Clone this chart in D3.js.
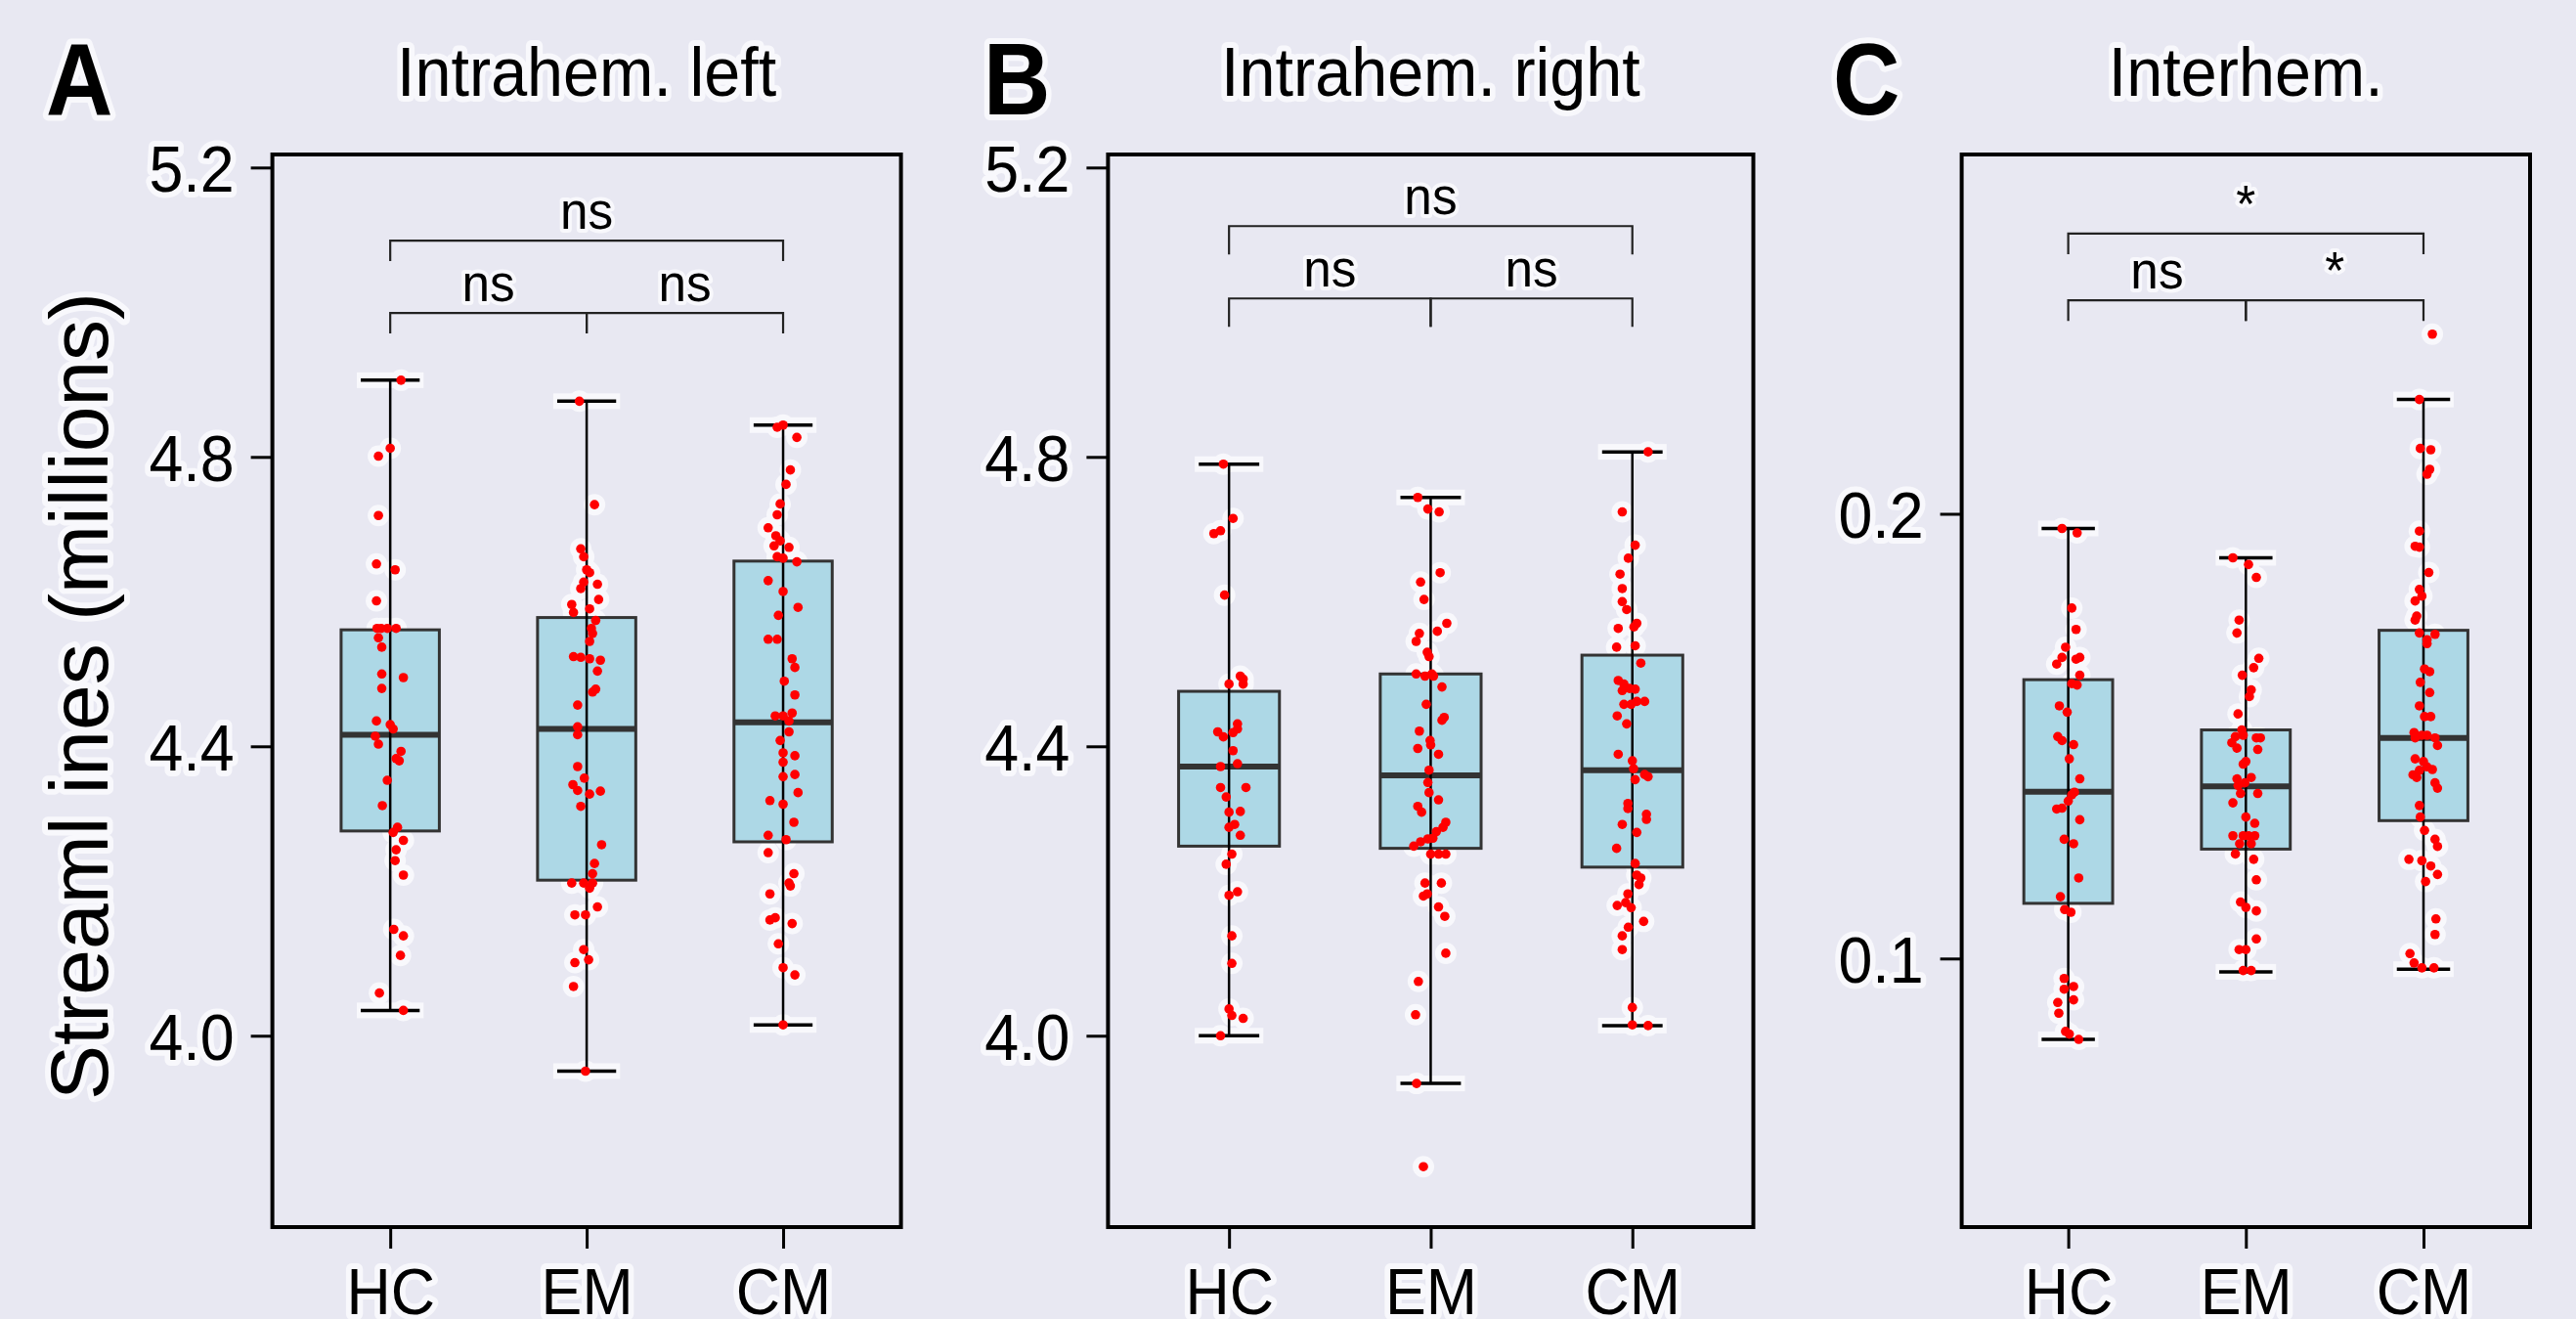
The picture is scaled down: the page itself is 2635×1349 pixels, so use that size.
<!DOCTYPE html>
<html>
<head>
<meta charset="utf-8">
<script src="https://cdn.jsdelivr.net/npm/d3@7"></script>
<style>
  html, body { margin: 0; padding: 0; background: #e8e8f2; }
  svg { display: block; }
  text { font-family: "Liberation Sans", Arial, sans-serif; fill: #000; }
</style>
</head>
<body>
<svg id="chart" width="2635" height="1349"></svg>
<script>
// ---- data ----
const groups = ["HC", "EM", "CM"];
const panelTitles = ["Intrahem. left", "Intrahem. right", "Interhem."];
const panelLetters = ["A", "B", "C"];
const yLabel = "Streaml ines (millions)";
const ticksIntra = [4.0, 4.4, 4.8, 5.2];
const ticksInter = [0.1, 0.2];

// box stats per group: [lower whisker, q1, median, q3, upper whisker]
const leftStats  = [[4.035, 4.283, 4.416, 4.561, 4.906], [3.951, 4.215, 4.424, 4.578, 4.877], [4.015, 4.268, 4.433, 4.656, 4.844]];
const rightStats = [[4.000, 4.262, 4.372, 4.476, 4.790], [3.934, 4.259, 4.360, 4.500, 4.744], [4.014, 4.233, 4.367, 4.526, 4.807]];
const interStats = [[0.0818, 0.1124, 0.1375, 0.1627, 0.1967], [0.0970, 0.1246, 0.1387, 0.1514, 0.1901], [0.0976, 0.1310, 0.1496, 0.1738, 0.2257]];

// individual subjects: [value, jitter (fraction of category step)]
const leftHC = [[4.906,.055],[4.812,0],[4.801,-.06],[4.719,-.06],[4.652,-.07],[4.644,.025],[4.601,-.07],[4.563,-.067],[4.563,-.046],[4.563,-.015],[4.563,.03],[4.55,-.06],[4.537,-.043],[4.50,-.043],[4.495,.067],[4.48,-.043],[4.435,-.07],[4.43,0],[4.424,.015],[4.414,-.076],[4.403,-.06],[4.393,.055],[4.383,.03],[4.38,.046],[4.353,-.015],[4.318,-.04],[4.288,.037],[4.281,.015],[4.27,.067],[4.257,.03],[4.242,.025],[4.222,.067],[4.147,.018],[4.138,.067],[4.111,.052],[4.059,-.055],[4.035,.067]];
const leftEM = [[4.877,-.037],[4.734,.04],[4.673,-.03],[4.662,-.015],[4.644,0],[4.64,.015],[4.627,-.015],[4.624,.055],[4.618,-.03],[4.603,.061],[4.596,-.076],[4.59,.015],[4.585,-.067],[4.574,.046],[4.563,.024],[4.556,.03],[4.545,.015],[4.524,-.067],[4.523,-.03],[4.521,.015],[4.519,.07],[4.504,.055],[4.479,.046],[4.475,.03],[4.457,-.046],[4.427,-.046],[4.416,-.046],[4.372,-.046],[4.356,-.012],[4.347,-.07],[4.339,-.046],[4.334,.015],[4.338,.07],[4.317,-.03],[4.264,.076],[4.238,.04],[4.224,.03],[4.211,-.076],[4.211,-.015],[4.211,.03],[4.204,.015],[4.178,.055],[4.167,-.06],[4.167,-.006],[4.119,-.015],[4.101,-.06],[4.105,.01],[4.068,-.067],[3.951,-.006]];
const leftCM = [[4.844,0],[4.841,-.03],[4.827,.07],[4.782,.037],[4.762,.015],[4.735,-.015],[4.72,-.03],[4.702,-.076],[4.691,-.037],[4.684,-.015],[4.677,-.046],[4.675,.03],[4.662,-.03],[4.66,0],[4.655,.07],[4.629,-.076],[4.614,0],[4.592,.076],[4.581,-.024],[4.548,-.076],[4.548,-.03],[4.521,.046],[4.509,.06],[4.49,.006],[4.471,.06],[4.446,.046],[4.442,-.04],[4.442,0],[4.435,.03],[4.42,.03],[4.408,-.015],[4.391,0],[4.387,.06],[4.378,0],[4.361,.06],[4.358,0],[4.336,.076],[4.325,-.067],[4.32,0],[4.295,.055],[4.277,-.076],[4.271,.015],[4.253,-.076],[4.224,.055],[4.211,.03],[4.207,.037],[4.196,-.067],[4.163,-.04],[4.16,-.067],[4.155,.046],[4.127,-.024],[4.094,0],[4.084,.06],[4.015,0]];

const rightHC = [[4.79,-.028],[4.715,.02],[4.698,-.042],[4.694,-.075],[4.609,-.022],[4.497,.056],[4.493,.07],[4.486,0],[4.486,.07],[4.431,.042],[4.424,.042],[4.419,.02],[4.42,-.056],[4.413,-.028],[4.394,.02],[4.376,.042],[4.372,-.042],[4.343,.084],[4.343,-.042],[4.33,-.014],[4.31,.056],[4.309,0],[4.292,.028],[4.288,0],[4.277,.056],[4.251,.014],[4.237,-.014],[4.199,.042],[4.194,0],[4.138,.014],[4.1,.014],[4.037,0],[4.028,.014],[4.024,.07],[4.0,-.042]];
const rightEM = [[4.744,-.064],[4.728,-.014],[4.724,.042],[4.64,.047],[4.627,-.05],[4.603,-.033],[4.57,.08],[4.559,.033],[4.556,-.056],[4.545,-.072],[4.53,-.017],[4.524,-.008],[4.5,-.072],[4.497,-.028],[4.5,.006],[4.497,.014],[4.482,.056],[4.458,-.022],[4.44,.067],[4.436,.056],[4.421,-.056],[4.397,-.064],[4.402,0],[4.408,-.003],[4.389,.039],[4.367,-.008],[4.35,-.014],[4.336,-.008],[4.326,.039],[4.317,-.064],[4.309,-.045],[4.295,.075],[4.288,.061],[4.282,.028],[4.262,-.084],[4.268,-.05],[4.272,-.014],[4.273,.011],[4.251,0],[4.251,.039],[4.251,.075],[4.211,-.028],[4.211,.053],[4.196,-.017],[4.193,-.036],[4.178,.039],[4.165,.07],[4.114,.075],[4.075,-.061],[4.029,-.075],[3.934,-.07],[3.819,-.036]];
const rightCM = [[4.807,.078],[4.724,-.05],[4.678,.014],[4.66,-.02],[4.638,-.061],[4.618,-.05],[4.6,-.05],[4.589,-.028],[4.563,-.07],[4.57,.022],[4.565,.008],[4.537,-.078],[4.539,.014],[4.515,.042],[4.491,-.07],[4.486,-.042],[4.48,-.014],[4.479,.014],[4.477,-.05],[4.458,-.006],[4.462,.022],[4.462,.061],[4.458,-.042],[4.442,-.075],[4.431,-.028],[4.389,-.07],[4.38,0],[4.369,.006],[4.361,.061],[4.358,.078],[4.354,.014],[4.321,-.022],[4.314,-.022],[4.306,.07],[4.299,.07],[4.292,-.05],[4.281,.022],[4.259,-.078],[4.238,.014],[4.222,.022],[4.218,.042],[4.209,.033],[4.196,-.022],[4.18,-.075],[4.184,-.033],[4.177,-.006],[4.158,.056],[4.15,-.02],[4.138,-.05],[4.119,-.05],[4.039,0],[4.015,0],[4.014,.078]];

const interHC = [[.1967,-.035],[.1957,.05],[.1788,.02],[.174,.044],[.170,-.015],[.1677,.065],[.1662,-.065],[.1677,-.035],[.1673,.044],[.1637,.065],[.1618,.02],[.1615,.05],[.1568,-.05],[.1554,-.006],[.1499,-.059],[.149,-.035],[.1481,.03],[.1449,.006],[.1404,.065],[.1374,.035],[.1368,.02],[.1354,0],[.1336,-.065],[.1338,-.035],[.1312,.065],[.1268,-.023],[.1258,.03],[.1181,.059],[.1139,-.044],[.111,-.02],[.1104,.015],[.0955,-.023],[.0937,.03],[.0931,-.023],[.0901,-.059],[.0907,.03],[.0877,-.053],[.0836,-.015],[.083,.006],[.0818,.059]];
const interEM = [[.1901,-.073],[.1886,.015],[.1857,.059],[.1761,-.038],[.1732,-.05],[.1675,.073],[.1654,.044],[.1637,-.02],[.1604,.03],[.1589,.02],[.155,-.044],[.1514,-.023],[.1502,-.015],[.1499,-.059],[.1496,.059],[.1496,.082],[.1485,-.079],[.1473,-.05],[.147,.067],[.1443,0],[.1437,-.015],[.1407,.03],[.1404,-.05],[.1389,-.044],[.1395,-.006],[.1371,.067],[.1371,-.03],[.135,-.073],[.1318,0],[.1304,.05],[.1276,-.073],[.1276,-.015],[.1276,.015],[.1276,.05],[.1258,-.035],[.1258,.03],[.1235,-.059],[.1223,.044],[.1177,.059],[.1127,-.03],[.1115,0],[.1107,.059],[.1044,.059],[.102,-.038],[.102,0],[.0973,-.015],[.0973,.03]];
const interCM = [[.2404,.05],[.2257,-.023],[.2147,-.018],[.2144,.041],[.21,.035],[.2089,.02],[.1961,-.023],[.1927,-.047],[.1925,-.023],[.1868,.03],[.183,-.023],[.1815,-.009],[.1804,-.047],[.177,-.038],[.1761,-.047],[.1732,-.023],[.1729,.065],[.1717,.02],[.1708,.02],[.1651,.006],[.1645,.035],[.1621,-.018],[.1598,.035],[.1568,-.023],[.1544,.006],[.1544,.041],[.1508,-.053],[.1502,-.009],[.1502,.02],[.1496,-.047],[.1496,.065],[.1479,.079],[.1449,-.047],[.1443,0],[.1431,.02],[.1425,.05],[.1423,-.023],[.1413,-.059],[.1407,-.038],[.1395,.065],[.1383,.079],[.1344,-.023],[.1318,-.018],[.1288,.006],[.1268,.065],[.1252,.079],[.1223,-.082],[.122,-.009],[.1208,.041],[.1189,.079],[.1173,.012],[.1089,.07],[.1054,.065],[.1011,-.076],[.099,-.053],[.0979,-.009],[.0979,.059]];

// significance brackets: [from, to, label, bracket height in data units]
const leftSig  = [["HC", "EM", "ns", 4.999], ["EM", "CM", "ns", 4.999], ["HC", "CM", "ns", 5.099]];
const rightSig = [["HC", "EM", "ns", 5.019], ["EM", "CM", "ns", 5.019], ["HC", "CM", "ns", 5.119]];
const interSig = [["HC", "EM", "ns", 0.248], ["EM", "CM", "*", 0.248], ["HC", "CM", "*", 0.263]];

// ---- layout ----
const W = 2635, H = 1349;
const plotTop = 158, plotBottom = 1255;
const panels = [
  {x0: 278.6, x1: 921.6, domain: [3.7355, 5.218], ticks: ticksIntra, fmt: d3.format(".1f"), letterX: 47, tip: 21,
   stats: leftStats, pts: [leftHC, leftEM, leftCM], sig: leftSig},
  {x0: 1133.4, x1: 1793.5, domain: [3.7355, 5.218], ticks: ticksIntra, fmt: d3.format(".1f"), letterX: 1006, tip: 29,
   stats: rightStats, pts: [rightHC, rightEM, rightCM], sig: rightSig},
  {x0: 2006.6, x1: 2588, domain: [0.0396, 0.2808], ticks: ticksInter, fmt: d3.format(".1f"), letterX: 1875, tip: 21,
   stats: interStats, pts: [interHC, interEM, interCM], sig: interSig}
];

const svg = d3.select("#chart");
svg.append("rect").attr("width", W).attr("height", H).attr("fill", "#e8e8f2");

const haloCol = "#f8f8fc";
const sqx = 0.95;

// turn x/y attrs into a transform so the glyphs can be narrowed a bit
function narrow(sel, k) {
  sel.each(function () {
    const t = d3.select(this);
    const x = +t.attr("x") || 0, y = +t.attr("y") || 0;
    t.attr("x", null).attr("y", null)
      .attr("transform", `translate(${x},${y}) scale(${k},1)`);
  });
}
function halo(sel, w) {
  sel.attr("stroke", haloCol).attr("stroke-width", w)
    .attr("stroke-linejoin", "round").attr("paint-order", "stroke");
}

panels.forEach((p, pi) => {
  const g = svg.append("g");
  const x = d3.scalePoint().domain(groups).range([p.x0, p.x1]).padding(0.6);
  const u = x.step();
  const y = d3.scaleLinear().domain(p.domain).range([plotBottom, plotTop]);

  // white halos left over around the marks
  const hl = g.append("g");
  groups.forEach((grp, i) => {
    hl.selectAll(null).data(p.pts[i]).join("circle")
      .attr("cx", d => x(grp) + d[1] * u).attr("cy", d => y(d[0]))
      .attr("r", 11).attr("fill", haloCol);
    const s = p.stats[i];
    [s[0], s[4]].forEach(v => {
      hl.append("rect").attr("x", x(grp) - 0.17 * u).attr("y", y(v) - 8)
        .attr("width", 0.34 * u).attr("height", 16).attr("fill", haloCol);
    });
  });

  // boxes
  groups.forEach((grp, i) => {
    const s = p.stats[i];
    g.append("rect")
      .attr("x", x(grp) - 0.25 * u).attr("width", 0.5 * u)
      .attr("y", y(s[3])).attr("height", y(s[1]) - y(s[3]))
      .attr("fill", "#add8e6").attr("stroke", "#333").attr("stroke-width", 3);
    g.append("line")
      .attr("x1", x(grp) - 0.25 * u).attr("x2", x(grp) + 0.25 * u)
      .attr("y1", y(s[2])).attr("y2", y(s[2]))
      .attr("stroke", "#333").attr("stroke-width", 6);
    // whisker line + caps
    g.append("line")
      .attr("x1", x(grp)).attr("x2", x(grp))
      .attr("y1", y(s[0])).attr("y2", y(s[4]))
      .attr("stroke", "#000").attr("stroke-width", 2.5);
    [s[0], s[4]].forEach(v => {
      g.append("line")
        .attr("x1", x(grp) - 0.15 * u).attr("x2", x(grp) + 0.15 * u)
        .attr("y1", y(v)).attr("y2", y(v))
        .attr("stroke", "#000").attr("stroke-width", 3.5);
    });
  });

  // points
  groups.forEach((grp, i) => {
    g.append("g").selectAll("circle").data(p.pts[i]).join("circle")
      .attr("cx", d => x(grp) + d[1] * u).attr("cy", d => y(d[0]))
      .attr("r", 4.8).attr("fill", "#ff0000");
  });

  // significance brackets
  p.sig.forEach(s => {
    const xa = x(s[0]), xb = x(s[1]), yy = y(s[3]);
    g.append("path")
      .attr("d", `M${xa},${yy + p.tip}V${yy}H${xb}V${yy + p.tip}`)
      .attr("fill", "none").attr("stroke", "#222").attr("stroke-width", 2.2);
    g.append("text")
      .attr("x", (xa + xb) / 2).attr("y", yy - 12)
      .attr("text-anchor", "middle").attr("font-size", 54)
      .text(s[2])
      .call(halo, 8).call(narrow, sqx);
  });

  // frame
  g.append("rect")
    .attr("x", p.x0).attr("y", plotTop)
    .attr("width", p.x1 - p.x0).attr("height", plotBottom - plotTop)
    .attr("fill", "none").attr("stroke", "#000").attr("stroke-width", 4);

  // axes
  const ya = g.append("g").attr("transform", `translate(${p.x0},0)`)
    .call(d3.axisLeft(y).tickValues(p.ticks).tickFormat(p.fmt).tickSize(22).tickPadding(17));
  const xa = g.append("g").attr("transform", `translate(0,${plotBottom})`)
    .call(d3.axisBottom(x).tickSize(22).tickPadding(20));
  [ya, xa].forEach(a => {
    a.select(".domain").remove();
    a.selectAll(".tick line").attr("stroke", "#000").attr("stroke-width", 3);
    a.selectAll(".tick text")
      .attr("font-family", "'Liberation Sans', Arial, sans-serif")
      .attr("font-size", 66).attr("fill", "#000")
      .call(halo, 12).call(narrow, sqx);
  });
  ya.selectAll(".tick text").attr("dy", "0.36em");

  // titles and panel letters
  g.append("text")
    .attr("x", (p.x0 + p.x1) / 2).attr("y", 98)
    .attr("text-anchor", "middle").attr("font-size", 70)
    .text(panelTitles[pi])
    .call(halo, 12).call(narrow, sqx);
  g.append("text")
    .attr("x", p.letterX).attr("y", 117)
    .attr("font-size", 103).attr("font-weight", "bold")
    .text(panelLetters[pi])
    .call(halo, 12).call(narrow, 0.92);
});

// y axis title
svg.append("text")
  .attr("transform", "translate(110,712) rotate(-90)")
  .attr("text-anchor", "middle").attr("font-size", 84)
  .text(yLabel)
  .call(halo, 12);
</script>
</body>
</html>
